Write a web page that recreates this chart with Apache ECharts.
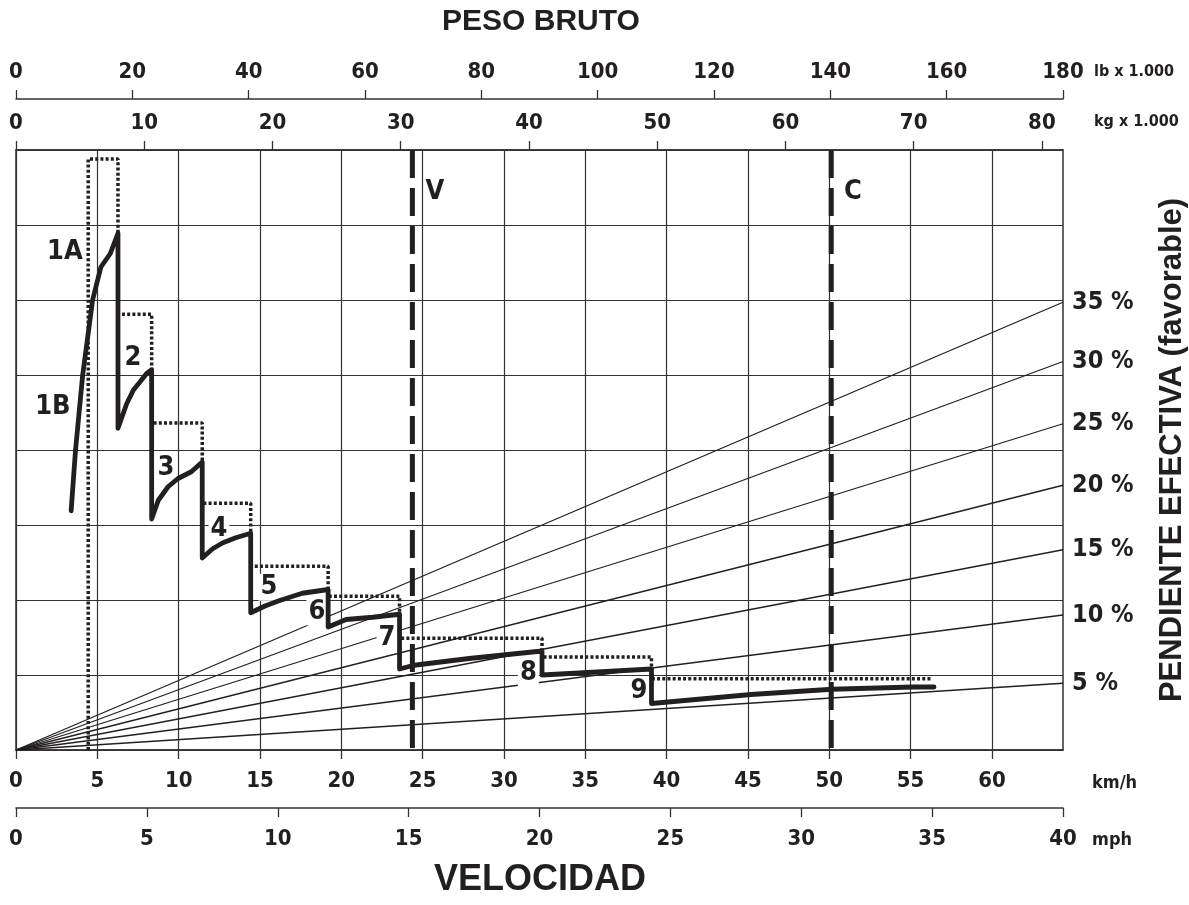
<!DOCTYPE html>
<html>
<head>
<meta charset="utf-8">
<title>Peso bruto / velocidad</title>
<script src="https://cdn.jsdelivr.net/npm/echarts@6/dist/echarts.min.js"></script>
<style>
html, body { margin: 0; padding: 0; background: #fff; }
#chart { width: 1189px; height: 905px; }
</style>
</head>
<body>
<div id="chart"></div>
<script>
// escalas: km/h y mph abajo, kg y lb arriba (40 mph = 64,37 km/h, 180.000 lb = 81.647 kg)
var kmhMax = 64.37;
var mphMax = 40;
var kgMax = 81.647;
var lbMax = 180;
var kmhTicks = [0, 5, 10, 15, 20, 25, 30, 35, 40, 45, 50, 55, 60];
var mphTicks = [0, 5, 10, 15, 20, 25, 30, 35, 40];
var kgTicks = [0, 10, 20, 30, 40, 50, 60, 70, 80];
var lbTicks = [0, 20, 40, 60, 80, 100, 120, 140, 160, 180];

// rectas de pendiente: valor en el borde derecho (en divisiones de la cuadricula)
var gradeNames = ['5 %', '10 %', '15 %', '20 %', '25 %', '30 %', '35 %'];
var gradeEnds = [0.89, 1.80, 2.67, 3.53, 4.35, 5.18, 5.97];

// curva de retardo (trazo continuo), x en km/h
var retardX = [3.39, 3.66, 4.10, 4.71, 5.22, 5.80, 6.27,
    6.27, 6.81, 7.22, 7.63, 8.03, 8.34,
    8.34, 8.75, 9.35, 9.96, 10.78, 11.45,
    11.45, 12.07, 12.69, 13.51, 14.43,
    14.43, 15.31, 16.17, 17.6, 19.19,
    19.19, 20.29, 21.93, 23.58,
    23.58, 24.47, 27.86, 32.34,
    32.34, 35.73, 39.07,
    39.07, 45.19, 50.17, 55.15, 56.44];
var retardY = [3.19, 4.0, 5.0, 6.0, 6.44, 6.62, 6.89,
    4.29, 4.62, 4.80, 4.91, 5.02, 5.07,
    3.08, 3.33, 3.51, 3.62, 3.71, 3.84,
    2.56, 2.68, 2.76, 2.83, 2.89,
    1.83, 1.92, 1.99, 2.09, 2.14,
    1.64, 1.74, 1.77, 1.81,
    1.08, 1.13, 1.22, 1.32,
    1.0, 1.04, 1.08,
    0.62, 0.74, 0.81, 0.84, 0.84];

// limite (trazo punteado)
var limitX = [4.44, 4.44, 6.27, 6.27, 8.34, 8.34, 11.45, 11.45, 14.43, 14.43, 19.19, 19.19,
    23.58, 23.58, 32.34, 32.34, 39.07, 39.07, 56.25];
var limitY = [0, 7.88, 7.88, 5.81, 5.81, 4.36, 4.36, 3.29, 3.29, 2.45, 2.45, 2.05,
    2.05, 1.49, 1.49, 1.24, 1.24, 0.95, 0.95];

// lineas verticales V y C (km/h)
var lineNames = ['V', 'C'];
var lineX = [24.37, 50.12];
var lineLabelX = [25.76, 51.46];

// rotulos de las marchas
var markNames = ['1A', '1B', '2', '3', '4', '5', '6', '7', '8', '9'];
var markX = [3.01, 2.27, 7.19, 9.22, 12.48, 15.55, 18.5, 22.81, 31.5, 38.3];
var markY = [6.64, 4.57, 5.23, 3.76, 2.95, 2.17, 1.84, 1.49, 1.03, 0.79];

var INK = '#231f20';
var NARROW = '"Liberation Sans Narrow", "DejaVu Sans Condensed", sans-serif';
var WIDE = '"Liberation Sans", "DejaVu Sans", sans-serif';

function pairs(xs, ys) {
    var out = [];
    for (var i = 0; i < xs.length; i++) out.push([xs[i], ys[i]]);
    return out;
}

function axisFont(size) {
    return { fontSize: size, fontWeight: 'bold', fontFamily: NARROW, color: INK };
}

function xAx(opt) {
    var base = {
        type: 'value',
        axisLine: { show: true, onZero: false, lineStyle: { color: '#333', width: 1.5 } },
        splitLine: { show: false }
    };
    return Object.assign(base, opt);
}

function ticks(vals) {
    return { show: true, length: 9, customValues: vals, lineStyle: { color: '#333', width: 1.3 } };
}

var series = [];

// rectas de pendiente
for (let i = 0; i < gradeEnds.length; i++) {
    series.push({
        type: 'line', symbol: 'none', silent: true, z: 2,
        data: [[0, 0], [kmhMax, gradeEnds[i]]],
        lineStyle: { color: INK, width: 1.3 },
        endLabel: Object.assign({ show: true, formatter: gradeNames[i], distance: 9 }, axisFont(25))
    });
}

// V y C
for (let i = 0; i < lineX.length; i++) {
    series.push({
        type: 'line', symbol: 'none', silent: true, z: 4,
        data: [[lineX[i], 8], [lineX[i], 0]],
        lineStyle: { color: INK, width: 5, type: [28, 10], cap: 'butt' }
    });
}

series.push({
    type: 'line', symbol: 'none', silent: true, z: 3,
    data: pairs(limitX, limitY),
    lineStyle: { color: INK, width: 3.5, type: [3, 2.2], cap: 'butt' }
});

// rotulos de marchas (fondo blanco, debajo del trazo continuo)
var markData = [];
for (let i = 0; i < markNames.length; i++) {
    markData.push({ name: markNames[i], value: [markX[i], markY[i]] });
}
series.push({
    type: 'scatter', symbolSize: 2, silent: true, z: 4,
    itemStyle: { color: 'rgba(0,0,0,0)', opacity: 1 },
    data: markData,
    label: Object.assign({
        show: true, position: 'inside', formatter: '{b}',
        backgroundColor: '#fff', padding: [0, 2]
    }, axisFont(27))
});

series.push({
    type: 'line', symbol: 'none', silent: true, z: 6,
    data: pairs(retardX, retardY),
    lineStyle: { color: INK, width: 4.8, join: 'round', cap: 'round' }
});

// rotulos V y C
var lineLabelData = [];
for (let i = 0; i < lineNames.length; i++) {
    lineLabelData.push({ name: lineNames[i], value: [lineLabelX[i], 7.44] });
}
series.push({
    type: 'scatter', symbolSize: 2, silent: true, z: 10,
    itemStyle: { color: 'rgba(0,0,0,0)', opacity: 1 },
    data: lineLabelData,
    label: Object.assign({ show: true, position: 'inside', formatter: '{b}' }, axisFont(27))
});

var myChart = echarts.init(document.getElementById('chart'), null, { renderer: 'canvas' });
var option = {
    animation: false,
    backgroundColor: '#fff',
    grid: {
        left: 16, right: 126, top: 150, bottom: 155,
        show: true, borderColor: '#333', borderWidth: 1.5
    },
    xAxis: [
        xAx({
            position: 'bottom', min: 0, max: kmhMax, interval: 5,
            axisTick: ticks(kmhTicks),
            axisLabel: Object.assign({ margin: 20, customValues: kmhTicks }, axisFont(22)),
            splitLine: { show: true, lineStyle: { color: '#333', width: 1.2 } }
        }),
        xAx({
            position: 'bottom', offset: 58, min: 0, max: mphMax, interval: 5,
            axisTick: ticks(mphTicks),
            axisLabel: Object.assign({ margin: 20, customValues: mphTicks }, axisFont(22))
        }),
        xAx({
            position: 'top', min: 0, max: kgMax, interval: 10,
            axisTick: ticks(kgTicks),
            axisLabel: Object.assign({ margin: 16, customValues: kgTicks }, axisFont(22))
        }),
        xAx({
            position: 'top', offset: 51, min: 0, max: lbMax, interval: 20,
            axisTick: ticks(lbTicks),
            axisLabel: Object.assign({ margin: 16, customValues: lbTicks }, axisFont(22))
        })
    ],
    yAxis: {
        type: 'value', min: 0, max: 8, interval: 1,
        axisLine: { show: false }, axisTick: { show: false }, axisLabel: { show: false },
        splitLine: { show: true, lineStyle: { color: '#333', width: 1.2 } }
    },
    graphic: [
        { type: 'text', x: 541, y: 22, style: { text: 'PESO BRUTO', font: 'bold 30px ' + WIDE, fill: INK, align: 'center', verticalAlign: 'middle' } },
        { type: 'text', x: 540, y: 880, style: { text: 'VELOCIDAD', font: 'bold 36px ' + WIDE, fill: INK, align: 'center', verticalAlign: 'middle' } },
        { type: 'text', x: 1094, y: 72, style: { text: 'lb x 1.000', font: 'bold 16px ' + NARROW, fill: INK, verticalAlign: 'middle' } },
        { type: 'text', x: 1094, y: 122, style: { text: 'kg x 1.000', font: 'bold 16px ' + NARROW, fill: INK, verticalAlign: 'middle' } },
        { type: 'text', x: 1092, y: 783, style: { text: 'km/h', font: 'bold 18px ' + NARROW, fill: INK, verticalAlign: 'middle' } },
        { type: 'text', x: 1092, y: 840, style: { text: 'mph', font: 'bold 18px ' + NARROW, fill: INK, verticalAlign: 'middle' } },
        {
            type: 'text', x: 1172, y: 450, rotation: Math.PI / 2,
            style: { text: 'PENDIENTE EFECTIVA (favorable)', font: 'bold 31px ' + WIDE, fill: INK, align: 'center', verticalAlign: 'middle' }
        }
    ],
    series: series
};
myChart.setOption(option);
</script>
</body>
</html>
